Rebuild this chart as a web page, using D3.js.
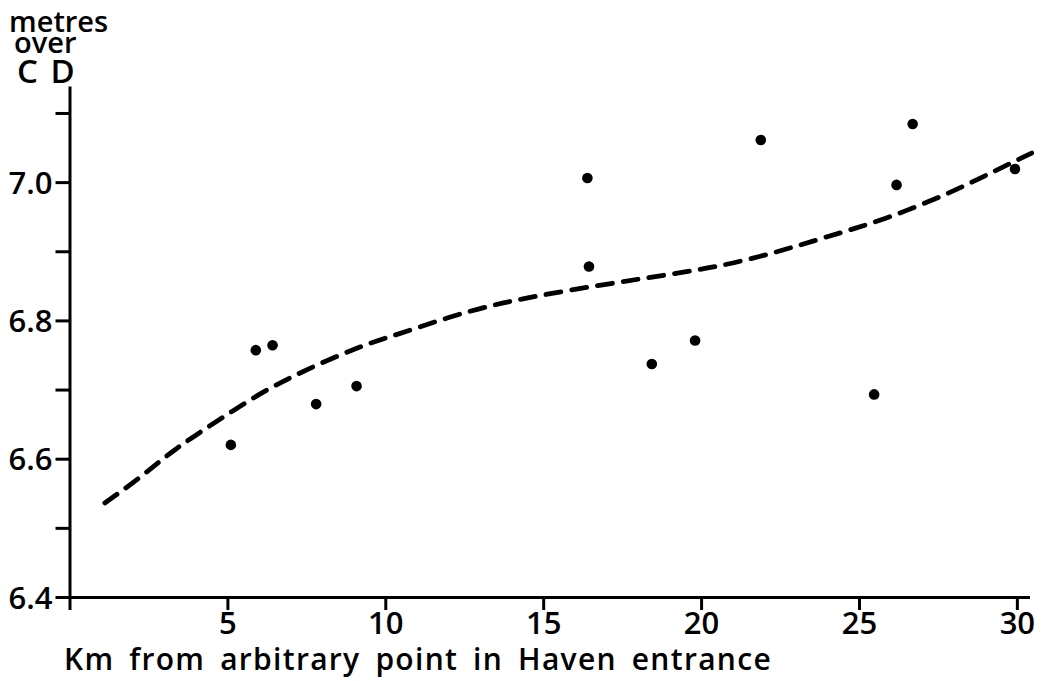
<!DOCTYPE html>
<html>
<head>
<meta charset="utf-8">
<script src="https://cdn.jsdelivr.net/npm/d3@7"></script>
<style>
  html, body { margin: 0; padding: 0; background: #fff; }
  svg { display: block; }
  text { font-family: "Open Sans", "DejaVu Sans", sans-serif; font-weight: 600; fill: #000; }
</style>
</head>
<body>
<svg id="chart" width="1045" height="681"></svg>
<script>
// ---- data ----
const kmPoints    = [5.11, 5.90, 6.43, 7.81, 9.09, 16.40, 16.45, 18.44, 19.81, 21.89, 25.48, 26.19, 26.70, 29.94];
const levelPoints = [6.620, 6.757, 6.764, 6.679, 6.705, 7.006, 6.878, 6.737, 6.771, 7.061, 6.693, 6.996, 7.084, 7.019];

const curveKm    = [1.12, 2.23, 3.29, 4.66, 6.14, 7.51, 9.09, 10.47, 12.68, 14.58, 16.80, 18.91, 20.49, 22.29, 23.98, 25.77, 27.88, 29.25, 30.47];
const curveLevel = [6.536, 6.572, 6.613, 6.654, 6.698, 6.729, 6.761, 6.781, 6.815, 6.834, 6.851, 6.866, 6.877, 6.897, 6.921, 6.945, 6.984, 7.015, 7.042];

const xTicks = [0, 5, 10, 15, 20, 25, 30];
const xTickLabels = ["", "5", "10", "15", "20", "25", "30"];
const yTicks = [6.4, 6.5, 6.6, 6.7, 6.8, 6.9, 7.0, 7.1];
const yTickLabels = ["6.4", "", "6.6", "", "6.8", "", "7.0", ""];

const yTitleLines = ["metres", "over", "C D"];
const xTitle = "Km from arbitrary point in Haven entrance";

// ---- scales ----
const svg = d3.select("#chart");
const x = d3.scaleLinear().domain([0, 30.4]).range([69.5, 1029.5]);
const y = d3.scaleLinear().domain([6.4, 7.139]).range([597, 86]);

// ---- axes ----
const xAxis = d3.axisBottom(x)
  .tickValues(xTicks)
  .tickSize(13)
  .tickSizeOuter(0)
  .tickPadding(3)
  .tickFormat((d, i) => xTickLabels[i]);

const yAxis = d3.axisLeft(y)
  .tickValues(yTicks)
  .tickSize(14)
  .tickSizeOuter(0)
  .tickPadding(3)
  .tickFormat((d, i) => yTickLabels[i]);

const gx = svg.append("g").attr("transform", `translate(0,${y(6.4)})`).call(xAxis);
const gy = svg.append("g").attr("transform", `translate(${x(0)},0)`).call(yAxis);

[gx, gy].forEach(g => {
  g.select(".domain").attr("stroke", "#000").attr("stroke-width", 3);
  g.selectAll(".tick line").attr("stroke", "#000").attr("stroke-width", 3);
  g.selectAll(".tick text")
    .attr("fill", "#000")
    .style("font-family", "'Open Sans', sans-serif")
    .style("font-weight", 600)
    .style("font-size", "31px");
});
gy.selectAll(".tick text").attr("dy", "0.36em");
gx.selectAll(".tick text").attr("dy", "0.68em");

// ---- dashed fitted curve ----
const curveData = curveKm.map((k, i) => [k, curveLevel[i]]);
const line = d3.line()
  .x(d => x(d[0]))
  .y(d => y(d[1]))
  .curve(d3.curveBasis);

svg.append("path")
  .datum(curveData)
  .attr("d", line)
  .attr("fill", "none")
  .attr("stroke", "#000")
  .attr("stroke-width", 4.8)
  .attr("stroke-linecap", "round")
  .attr("stroke-dasharray", "15 11");

// ---- points ----
svg.append("g")
  .selectAll("circle")
  .data(kmPoints.map((k, i) => [k, levelPoints[i]]))
  .join("circle")
  .attr("cx", d => x(d[0]))
  .attr("cy", d => y(d[1]))
  .attr("r", 5.3)
  .attr("fill", "#000");

// ---- titles ----
const yTitleX = [9, 14, 17];
const yTitleY = [32, 53, 83];
const yTitle = svg.append("text");
yTitle.selectAll("tspan")
  .data(yTitleLines)
  .join("tspan")
  .attr("x", (d, i) => yTitleX[i])
  .attr("y", (d, i) => yTitleY[i])
  .style("font-size", (d, i) => i === 2 ? "33px" : "29px")
  .style("word-spacing", (d, i) => i === 2 ? "4px" : null)
  .text(d => d);

const xt = svg.append("text")
  .attr("x", 64)
  .attr("y", 670)
  .style("font-size", "30px")
  .style("letter-spacing", "1.3px")
  .text(xTitle);
const natural = xt.node().getComputedTextLength();
const spaces = xTitle.split(" ").length - 1;
xt.style("word-spacing", Math.max(0, (708 - natural) / spaces) + "px");
</script>
</body>
</html>
